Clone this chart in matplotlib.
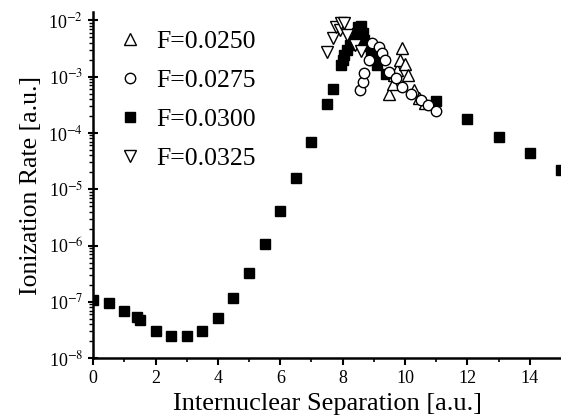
import numpy as np
import matplotlib
matplotlib.use('Agg')
from matplotlib import pyplot as plt
from matplotlib.ticker import FixedLocator, NullFormatter, FuncFormatter

plt.rcParams['font.family'] = ['Liberation Serif', 'DejaVu Serif']
plt.rcParams['mathtext.fontset'] = 'stix'

# F=0.0250 (open up triangles)
x250 = [9.5, 9.6, 9.65, 9.75, 9.85, 9.9, 10.0, 10.1, 10.3, 10.45, 10.65]
y250 = [5.0e-4, 7.5e-4, 1.06e-3, 1.3e-3, 1.95e-3, 3.2e-3, 1.7e-3, 1.06e-3, 5.8e-4, 4.1e-4, 3.4e-4]

# F=0.0275 (open circles)
x275 = [8.55, 8.65, 8.7, 8.85, 8.95, 9.15, 9.25, 9.35, 9.5, 9.7, 9.9, 10.2, 10.5, 10.75, 11.0]
y275 = [5.8e-4, 8.1e-4, 1.15e-3, 2.0e-3, 3.9e-3, 3.3e-3, 2.6e-3, 1.95e-3, 1.2e-3, 9.3e-4, 6.6e-4,
        5.0e-4, 3.8e-4, 3.1e-4, 2.5e-4]

# F=0.0300 (filled squares)
x300 = [0, 0.5, 1.0, 1.4, 1.5, 2.0, 2.5, 3.0, 3.5, 4.0, 4.5, 5.0, 5.5, 6.0, 6.5, 7.0, 7.5, 7.7,
        7.95, 8.0, 8.05, 8.15, 8.25, 8.35, 8.45, 8.5, 8.6, 8.65, 8.7, 8.8, 8.9, 9.0, 9.1, 9.4,
        11.0, 12.0, 13.0, 14.0, 15.0]
y300 = [1.1e-7, 9.5e-8, 6.9e-8, 5.4e-8, 4.7e-8, 3.1e-8, 2.5e-8, 2.5e-8, 3.05e-8, 5.2e-8, 1.15e-7,
        3.2e-7, 1.06e-6, 4.1e-6, 1.6e-5, 6.9e-5, 3.2e-4, 6.0e-4,
        1.6e-3, 2.0e-3, 2.4e-3, 3.0e-3, 3.6e-3, 4.5e-3, 6.0e-3, 7.5e-3, 7.8e-3, 6.0e-3, 4.5e-3,
        3.5e-3, 2.7e-3, 2.0e-3, 1.6e-3, 1.1e-3,
        3.7e-4, 1.8e-4, 8.4e-5, 4.4e-5, 2.2e-5]

# F=0.0325 (open down triangles)
x325 = [7.5, 7.7, 7.8, 7.9, 7.95, 8.05, 8.15, 8.4, 8.6]
y325 = [2.7e-3, 4.8e-3, 7.6e-3, 6.7e-3, 9.1e-3, 9.0e-3, 5.5e-3, 3.6e-3, 2.8e-3]

xticks = [0, 2, 4, 6, 8, 10, 12, 14]
xminor = [1, 3, 5, 7, 9, 11, 13]
ydecades = [-8, -7, -6, -5, -4, -3, -2]

fig = plt.figure(figsize=(5.61, 4.16), dpi=100)
ax = fig.add_axes([0.166, 0.139, 0.834, 0.832])

sq, = ax.plot(x300, y300, 's', color='black', ms=7.5, ls='none', zorder=2)
tu, = ax.plot(x250, y250, '^', mfc='white', mec='black', mew=1.0, ms=8, ls='none', zorder=3)
ci, = ax.plot(x275, y275, 'o', mfc='white', mec='black', mew=1.0, ms=7.5, ls='none', zorder=3)
td, = ax.plot(x325, y325, 'v', mfc='white', mec='black', mew=1.0, ms=8, ls='none', zorder=3)

ax.set_yscale('log')
ax.set_xlim(0, 15)
ax.set_ylim(1e-8, 1.4e-2)

ax.xaxis.set_major_locator(FixedLocator(xticks))
ax.xaxis.set_minor_locator(FixedLocator(xminor))
ymaj = [10.0 ** d for d in ydecades]
ymin = [m * 10.0 ** d for d in ydecades for m in range(2, 10) if m * 10.0 ** d <= 1.4e-2]
ax.yaxis.set_major_locator(FixedLocator(ymaj))
ax.yaxis.set_minor_locator(FixedLocator(ymin))
ax.yaxis.set_minor_formatter(NullFormatter())
ax.yaxis.set_major_formatter(FuncFormatter(lambda v, p: r'10$^{%d}$' % int(round(np.log10(v)))))

for s in ['top', 'right']:
    ax.spines[s].set_visible(False)
ax.spines['left'].set_linewidth(1.8)
ax.spines['bottom'].set_linewidth(1.8)

ax.tick_params(axis='x', which='major', direction='out', length=5, width=1.5, labelsize=13)
ax.tick_params(axis='x', which='minor', direction='out', length=3, width=1.2)
ax.tick_params(axis='y', which='major', direction='inout', length=7, width=1.5, labelsize=13)
ax.tick_params(axis='y', which='minor', direction='out', length=3, width=1.0)

ax.set_xlabel('Internuclear Separation [a.u.]', fontsize=19, labelpad=4)
ax.set_ylabel('Ionization Rate [a.u.]', fontsize=18.5, labelpad=5)

ax.legend([tu, ci, sq, td], ['F=0.0250', 'F=0.0275', 'F=0.0300', 'F=0.0325'],
          loc='upper left', bbox_to_anchor=(0.0, 1.0), frameon=False, fontsize=18.5,
          labelspacing=0.62, handletextpad=0.25, borderaxespad=0.3, handlelength=1.5)

fig.savefig('out.png', dpi=100)
